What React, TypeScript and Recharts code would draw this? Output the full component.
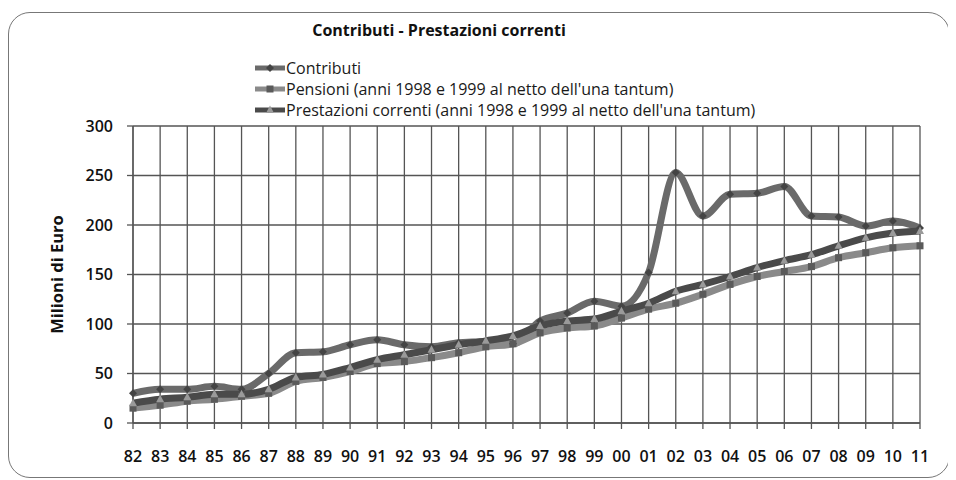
import React from "react";
import { LineChart, Line, XAxis, YAxis, CartesianGrid } from "recharts";

const years = ["82","83","84","85","86","87","88","89","90","91","92","93","94","95","96","97","98","99","00","01","02","03","04","05","06","07","08","09","10","11"];
const contributi = [30,34,34,37,34,50,71,72,79,84,79,77,81,82,80,103,111,123,118,152,253,209,231,232,239,209,208,199,204,197];
const pensioni = [15,18,22,24,27,30,42,46,52,60,62,66,71,77,80,91,96,98,106,115,121,130,140,148,153,158,167,172,177,179];
const prestazioni = [20,24,26,29,29,34,46,49,56,64,69,74,79,83,88,98,103,105,113,121,133,140,148,157,164,170,179,187,192,194];
const yTicks = [0, 50, 100, 150, 200, 250, 300];

const chartData = years.map((y, i) => ({
  year: y,
  contributi: contributi[i],
  pensioni: pensioni[i],
  prestazioni: prestazioni[i],
}));

const FONT = "'Open Sans', sans-serif";
const GRID = "#555";

const SERIES = [
  { key: "contributi", label: "Contributi", color: "#6a6a6a", dotColor: "#444", shape: "diamond" },
  { key: "pensioni", label: "Pensioni (anni 1998 e 1999 al netto dell'una tantum)", color: "#8a8a8a", dotColor: "#5a5a5a", shape: "square" },
  { key: "prestazioni", label: "Prestazioni correnti (anni 1998 e 1999 al netto dell'una tantum)", color: "#4a4a4a", dotColor: "#9a9a9a", shape: "triangle" },
];

const marker = (shape: string, cx: number, cy: number, fill: string, key?: any) => {
  if (shape === "diamond")
    return <path key={key} d={`M${cx},${cy - 4}L${cx + 4},${cy}L${cx},${cy + 4}L${cx - 4},${cy}Z`} fill={fill} />;
  if (shape === "square")
    return <rect key={key} x={cx - 3.5} y={cy - 3.5} width={7} height={7} fill={fill} />;
  return <path key={key} d={`M${cx},${cy - 4.5}L${cx + 4},${cy + 3}L${cx - 4},${cy + 3}Z`} fill={fill} />;
};

const makeDot = (shape: string, fill: string) => (props: any) => {
  const { cx, cy, index } = props;
  if (cx == null || cy == null) return <g key={index} />;
  return marker(shape, cx, cy, fill, index);
};

const LegendBox = () => (
  <div
    style={{
      position: "absolute",
      left: 246,
      top: 44,
      fontFamily: FONT,
      fontSize: 16,
      color: "#1a1a1a",
      zIndex: 2,
    }}
  >
    {SERIES.map((s) => (
      <div key={s.key} style={{ display: "flex", alignItems: "center", height: 21 }}>
        <svg width={30} height={12} style={{ marginRight: 1 }}>
          <line x1={0} y1={6} x2={30} y2={6} stroke={s.color} strokeWidth={5} />
          {marker(s.shape, 15, 6, s.dotColor)}
        </svg>
        <span>{s.label}</span>
      </div>
    ))}
  </div>
);

export default function App() {
  return (
    <div
      style={{
        position: "relative",
        width: 940,
        height: 464,
        marginTop: 4,
        border: "1.5px solid #777",
        borderRadius: 22,
        background: "#fff",
      }}
    >
      <div
        style={{
          position: "absolute",
          top: 6,
          left: 0,
          width: 860,
          textAlign: "center",
          fontFamily: FONT,
          fontWeight: "bold",
          fontSize: 16,
          color: "#111",
          zIndex: 2,
        }}
      >
        Contributi - Prestazioni correnti
      </div>
      <LegendBox />
      <LineChart
        width={940}
        height={464}
        data={chartData}
        margin={{ top: 113, right: 29, left: 42, bottom: 14 }}
      >
        <CartesianGrid stroke={GRID} strokeWidth={1.3} />
        <XAxis
          dataKey="year"
          height={40}
          tickSize={6}
          tickMargin={22}
          interval={0}
          axisLine={{ stroke: GRID, strokeWidth: 1.3 }}
          tickLine={{ stroke: GRID, strokeWidth: 1.3 }}
          tick={{ fill: "#111", fontSize: 16, fontFamily: FONT, fontWeight: 600 }}
        />
        <YAxis
          width={82}
          domain={[0, 300]}
          ticks={yTicks}
          tickSize={6}
          tickMargin={14}
          axisLine={{ stroke: GRID, strokeWidth: 1.3 }}
          tickLine={{ stroke: GRID, strokeWidth: 1.3 }}
          tick={{ fill: "#111", fontSize: 16, fontFamily: FONT, fontWeight: 600 }}
          label={{
            content: ({ viewBox }: any) => {
              const x = viewBox.x + 5;
              const y = viewBox.y + viewBox.height / 2;
              return (
                <text
                  x={x}
                  y={y}
                  transform={`rotate(-90, ${x}, ${y})`}
                  textAnchor="middle"
                  dominantBaseline="central"
                  fontFamily={FONT}
                  fontWeight="bold"
                  fontSize={16.5}
                  fill="#111"
                >
                  Milioni di Euro
                </text>
              );
            },
          }}
        />
        {SERIES.map((s) => (
          <Line
            key={s.key}
            dataKey={s.key}
            name={s.label}
            type="monotone"
            stroke={s.color}
            strokeWidth={7}
            dot={makeDot(s.shape, s.dotColor)}
            isAnimationActive={false}
          />
        ))}
      </LineChart>
    </div>
  );
}
